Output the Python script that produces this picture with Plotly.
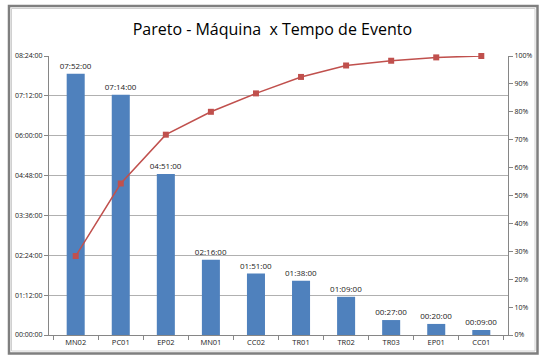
import plotly.graph_objects as go

categorias = ["MN02", "PC01", "EP02", "MN01", "CC02", "TR01", "TR02", "TR03", "EP01", "CC01"]
minutos = [472, 434, 291, 136, 111, 98, 69, 27, 20, 9]
rotulos = ["07:52:00", "07:14:00", "04:51:00", "02:16:00", "01:51:00", "01:38:00", "01:09:00", "00:27:00", "00:20:00", "00:09:00"]
acumulado_pct = [28.3, 54.3, 71.8, 80.0, 86.6, 92.5, 96.6, 98.3, 99.5, 100.0]
y_ticks = [0, 72, 144, 216, 288, 360, 432, 504]
y_ticktext = ["00:00:00", "01:12:00", "02:24:00", "03:36:00", "04:48:00", "06:00:00", "07:12:00", "08:24:00"]
y2_ticks = [0, 10, 20, 30, 40, 50, 60, 70, 80, 90, 100]
y2_ticktext = ["0%", "10%", "20%", "30%", "40%", "50%", "60%", "70%", "80%", "90%", "100%"]

W, H = 548, 362
L, R, T, B = 49, 40, 56, 27
pw, ph = W - L - R, H - T - B

def px_x(x):
    return (x - L) / pw

def px_y(y):
    return (H - B - y) / ph

fig = go.Figure()
fig.add_trace(go.Bar(
    x=categorias, y=minutos, text=rotulos, textposition="outside", constraintext="none",
    textfont=dict(size=8, color="#1a1a1a"), marker=dict(color="#4F81BD", line=dict(width=0)),
    width=0.4, cliponaxis=False, name="Tempo"))
fig.add_trace(go.Scatter(
    x=categorias, y=acumulado_pct, yaxis="y2", mode="lines+markers",
    line=dict(color="#C0504D", width=1.5),
    marker=dict(symbol="square", size=6, color="#C0504D"), cliponaxis=False, name="Acumulado"))

fig.update_layout(
    width=W, height=H, margin=dict(l=L, r=R, t=T, b=B),
    paper_bgcolor="white", plot_bgcolor="white", showlegend=False,
    font=dict(family="Open Sans, sans-serif", color="#1a1a1a"),
    title=dict(text="Pareto - Máquina  x Tempo de Evento", x=0.497, xanchor="center",
               y=1 - 29 / H, yanchor="middle", font=dict(size=16, color="#000000")),
    xaxis=dict(showline=True, linecolor="#868686", linewidth=1, ticks="outside",
               tickson="boundaries", ticklen=4, tickcolor="#868686",
               tickfont=dict(size=7.5, color="#1a1a1a"), showgrid=False),
    yaxis=dict(range=[0, 504], tickmode="array", tickvals=y_ticks, ticktext=y_ticktext, showgrid=True,
               gridcolor="#B0B0B0", gridwidth=1, showline=True, linecolor="#868686",
               ticks="outside", ticklen=4, tickcolor="#868686",
               tickfont=dict(size=7, color="#1a1a1a"), zeroline=False),
    yaxis2=dict(range=[0, 100], tickmode="array", tickvals=y2_ticks, ticktext=y2_ticktext,
                overlaying="y", side="right",
                showgrid=False, showline=True, linecolor="#868686", ticks="outside", ticklen=4,
                tickcolor="#868686", tickfont=dict(size=7, color="#1a1a1a"), zeroline=False),
)

# outer chart frame
fig.add_shape(type="rect", xref="paper", yref="paper",
              x0=px_x(9), x1=px_x(537.5), y0=px_y(353.5), y1=px_y(6),
              line=dict(color="#7F7F7F", width=2.5), layer="below")
fig.add_shape(type="rect", xref="paper", yref="paper",
              x0=px_x(11.5), x1=px_x(535), y0=px_y(351), y1=px_y(8.5),
              line=dict(color="#D0D0D0", width=1), layer="below")

fig.write_html("out.html", config={"displayModeBar": False},
               post_script="document.body.style.margin='0';document.body.style.overflow='hidden';")
